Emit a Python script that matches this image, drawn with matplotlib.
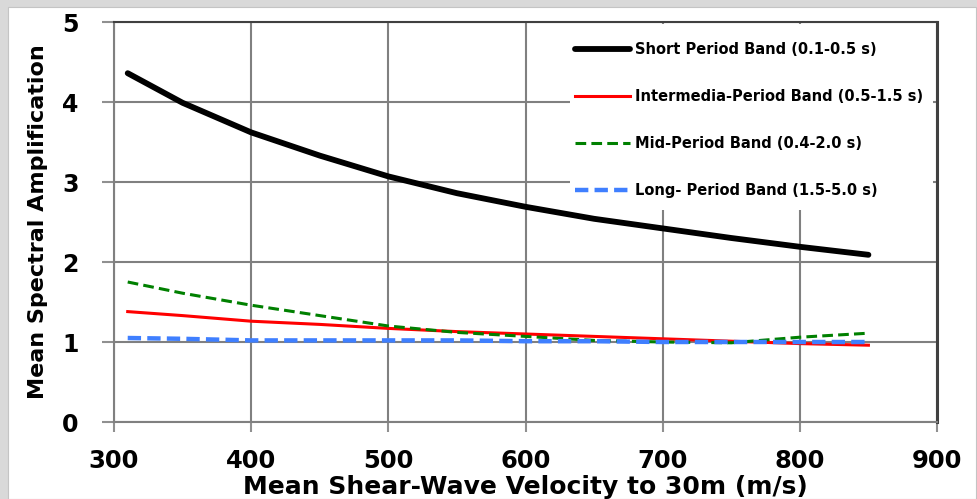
import matplotlib.pyplot as plt
from matplotlib.patches import Rectangle

velocity = [310, 350, 400, 450, 500, 550, 600, 650, 700, 750, 800, 850]
short_band = [4.36, 3.99, 3.62, 3.33, 3.07, 2.86, 2.69, 2.54, 2.42, 2.30, 2.19, 2.09]
inter_band = [1.38, 1.33, 1.26, 1.22, 1.17, 1.13, 1.10, 1.07, 1.04, 1.01, 0.98, 0.96]
mid_band = [1.75, 1.61, 1.46, 1.33, 1.20, 1.12, 1.07, 1.02, 1.00, 0.99, 1.06, 1.11]
long_band = [1.05, 1.04, 1.02, 1.02, 1.02, 1.02, 1.01, 1.01, 1.00, 1.00, 1.00, 1.00]

labels = ['Short Period Band (0.1-0.5 s)',
          'Intermedia-Period Band (0.5-1.5 s)',
          'Mid-Period Band (0.4-2.0 s)',
          'Long- Period Band (1.5-5.0 s)']
x_ticks = [300, 400, 500, 600, 700, 800, 900]
y_ticks = [0, 1, 2, 3, 4, 5]


def make_plot():
    plt.rcParams['font.family'] = ['DejaVu Sans']
    fig = plt.figure(figsize=(9.78, 4.99), dpi=100, facecolor='#d9d9d9')
    fig.patches.append(Rectangle((8 / 978, 0), 968 / 978, 492 / 499,
                                 transform=fig.transFigure, facecolor='white',
                                 edgecolor='#c4c4c4', lw=0.8, zorder=-5))
    ax = fig.add_axes([114 / 978, 1 - 422 / 499, 823 / 978, 400 / 499])
    ax.set_facecolor('white')

    # white legend box hiding the grid behind it
    ax.add_patch(Rectangle((0.554, 0.53), 0.441, 0.465, transform=ax.transAxes,
                           facecolor='white', edgecolor='none', zorder=1))

    ax.plot(velocity, short_band, color='black', lw=4.2, solid_capstyle='round',
            label=labels[0], zorder=3)
    ax.plot(velocity, inter_band, color='#ff0000', lw=2.2, label=labels[1],
            zorder=3)
    ax.plot(velocity, mid_band, color='#008000', lw=2.2, ls=(0, (3.5, 1.7)),
            label=labels[2], zorder=3)
    ax.plot(velocity, long_band, color='#3f7fff', lw=3.2, ls=(0, (3, 1.4)),
            label=labels[3], zorder=3)

    ax.set_xlim(300, 900)
    ax.set_ylim(0, 5)
    ax.set_xticks(x_ticks)
    ax.set_yticks(y_ticks)
    ax.grid(True, color='#808080', lw=1.5)
    ax.set_axisbelow(True)
    for s in ['left', 'bottom']:
        ax.spines[s].set_color('#808080')
        ax.spines[s].set_linewidth(1.5)
    ax.spines['top'].set_color('#404040')
    ax.spines['top'].set_linewidth(1.5)
    ax.spines['right'].set_color('#404040')
    ax.spines['right'].set_linewidth(2.2)

    ax.tick_params(axis='x', length=7.5, width=1.5, color='#909090', pad=12,
                   labelsize=17.5)
    ax.tick_params(axis='y', length=8.5, width=1.5, color='#909090', pad=17,
                   labelsize=17)
    for t in ax.get_xticklabels() + ax.get_yticklabels():
        t.set_fontweight('bold')

    fig.text(525.5 / 978, 1 - 494 / 499, 'Mean Shear-Wave Velocity to 30m (m/s)',
             ha='center', va='baseline', fontsize=18, fontweight='bold')
    fig.text(38 / 978, 1 - 222 / 499, 'Mean Spectral Amplification',
             ha='center', va='center', rotation=90, fontsize=16,
             fontweight='bold')

    ax.legend(loc='upper left', bbox_to_anchor=(0.560, 0.950),
              frameon=False, borderpad=0, borderaxespad=0,
              handlelength=3.77, handletextpad=0.34, labelspacing=2.2,
              prop={'size': 10.5, 'weight': 'bold'})
    return fig


if '__main__' == __name__:
    fig = make_plot()
    fig.savefig('out.png', dpi=100, facecolor=fig.get_facecolor())
